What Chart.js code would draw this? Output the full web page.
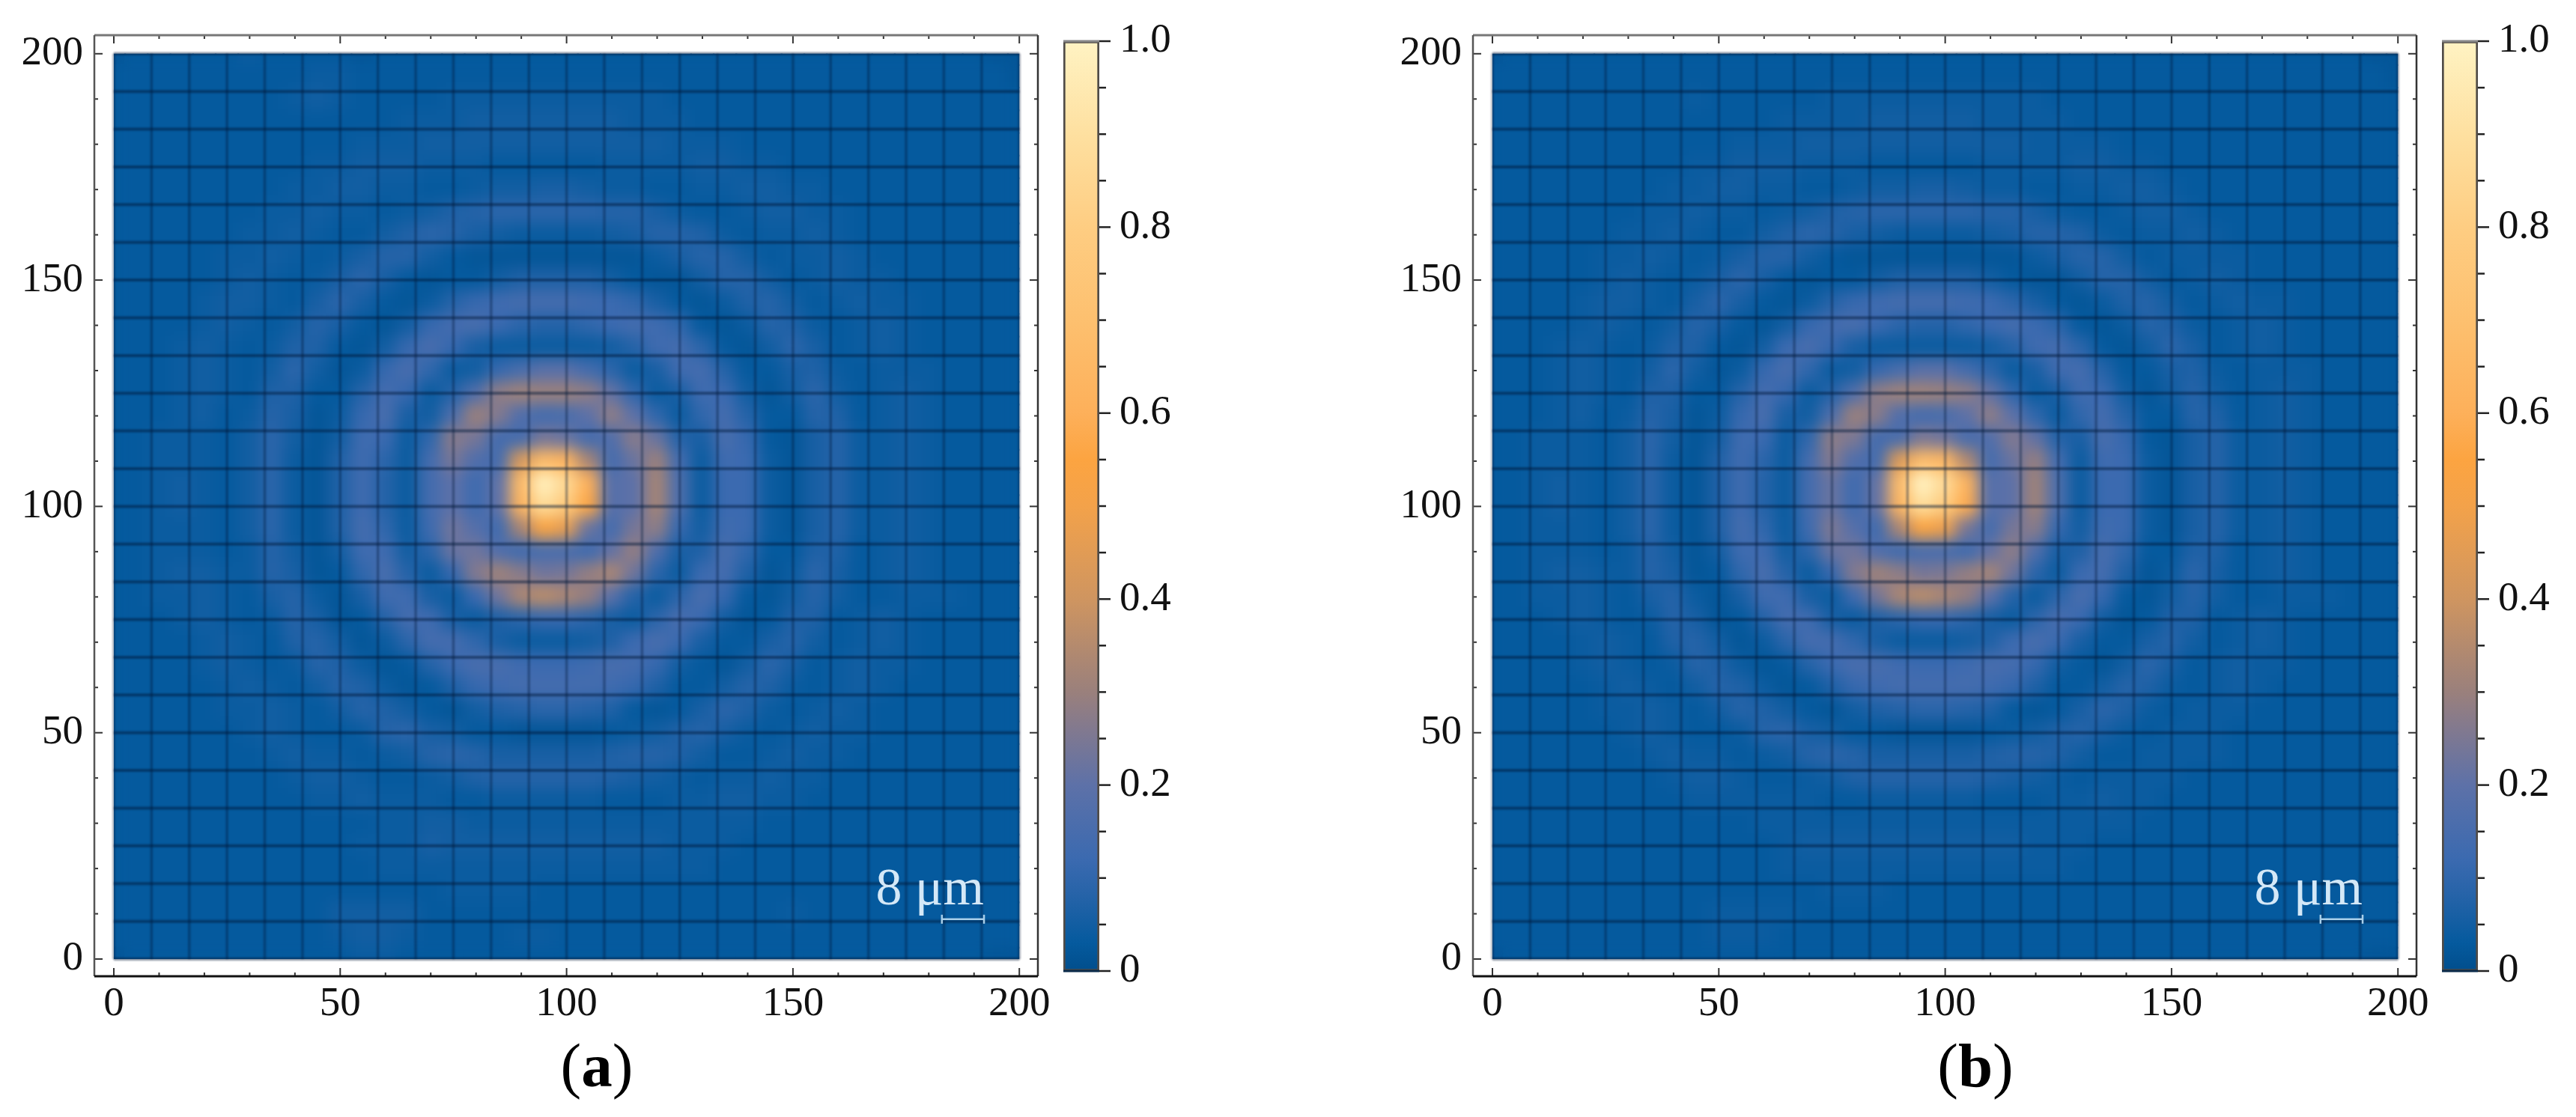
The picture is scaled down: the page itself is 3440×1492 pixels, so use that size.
<!DOCTYPE html>
<html>
<head>
<meta charset="utf-8">
<title>Intensity maps</title>
<script src="https://cdn.jsdelivr.net/npm/chart.js@4"></script>
<style>
  html, body { margin: 0; background: #fff; width: 3440px; height: 1492px; overflow: hidden; }
  canvas { position: absolute; top: 0; }
  .tag { position: absolute; top: 1373px; width: 200px; text-align: center; font: 83px/100px "Liberation Serif", serif; color: #000; }
</style>
</head>
<body>
<canvas id="mapA" width="1409" height="1380" style="left:0"></canvas>
<canvas id="barA" width="220" height="1380" style="left:1400px"></canvas>
<canvas id="mapB" width="1409" height="1380" style="left:1841px"></canvas>
<canvas id="barB" width="220" height="1380" style="left:3241px"></canvas>
<div class="tag" style="left:697px">(<b>a</b>)</div>
<div class="tag" style="left:2538px">(<b>b</b>)</div>
<script>
const xLabels = [0, 50, 100, 150, 200];
const yLabels = [0, 50, 100, 150, 200];
const minorTicks = [10, 20, 30, 40, 60, 70, 80, 90, 110, 120, 130, 140, 160, 170, 180, 190];
const barLabels = [0, 0.2, 0.4, 0.6, 0.8, 1];
const barMinorTicks = [0.05, 0.1, 0.15, 0.25, 0.3, 0.35, 0.45, 0.5, 0.55, 0.65, 0.7, 0.75, 0.85, 0.9, 0.95];
const meshLines = [0, 8.33, 16.67, 25, 33.33, 41.67, 50, 58.33, 66.67, 75, 83.33, 91.67, 100, 108.33, 116.67, 125, 133.33, 141.67, 150, 158.33, 166.67, 175, 183.33, 191.67, 200];

const scaleBarX = [182.9, 192.2];
const scaleBarY = 8.8;
const scaleBarText = "8 μm";

const colorStops = [0, 0.03, 0.08, 0.12, 0.2, 0.26, 0.3, 0.4, 0.5, 0.55, 0.6, 0.7, 0.8, 0.9, 1];
const colorHex = ["#014e8c", "#055a9e", "#2563a8", "#3b6ab0", "#5d71a8", "#82798f", "#9a807c", "#cf9560", "#f3a24a", "#fca441", "#fdb05a", "#fdc06f", "#fecd82", "#fee0a0", "#fff3c3"];

// sample positions of the intensity rows/columns
const sampleX = [0,5,10,15,20,25,30,35,40,45,50,55,60,65,70,75,80,85,90,95,100,105,110,115,120,125,130,135,140,145,150,155,160,165,170,175,180,185,190,195,200];
const sampleY = [200,195,190,185,180,175,170,165,160,155,150,145,140,135,130,125,120,115,110,105,100,95,90,85,80,75,70,65,60,55,50,45,40,35,30,25,20,15,10,5,0];

// intensity in percent, top row first
const intensityA = [
[2,3,3,3,3,3,4,3,3,3,3,2,3,3,3,3,3,3,3,3,3,3,3,3,3,3,3,3,3,3,3,3,3,3,3,3,3,3,3,2,2],
[3,3,3,3,3,3,3,3,3,4,4,3,3,3,3,3,3,3,3,3,3,3,3,3,3,3,3,3,3,3,3,3,3,3,3,3,3,3,3,3,2],
[3,3,3,3,3,3,3,3,4,5,4,3,3,3,3,4,4,4,4,4,4,4,4,4,4,3,3,3,3,3,3,3,3,3,3,3,3,3,3,3,3],
[3,3,3,3,3,3,3,3,3,3,3,3,3,4,4,4,5,5,5,5,5,5,5,4,4,4,3,3,3,3,3,3,3,3,3,3,3,3,3,3,3],
[3,3,3,3,3,3,3,3,3,3,3,4,4,4,5,5,5,5,5,5,5,5,5,5,5,4,4,4,3,3,3,3,3,3,3,3,3,3,3,3,3],
[3,3,3,3,3,3,3,3,3,4,4,5,5,5,4,4,4,3,3,3,3,3,4,4,4,4,5,5,4,4,3,3,3,3,3,3,3,3,3,3,3],
[3,3,3,3,3,3,3,3,4,4,5,5,4,4,3,3,4,5,5,6,6,5,4,4,3,3,4,4,5,5,4,4,3,3,3,3,3,3,3,3,3],
[3,3,3,3,3,3,3,4,4,5,4,4,3,4,5,7,8,9,9,9,9,9,8,8,6,4,3,3,4,5,5,4,4,3,3,3,3,3,3,3,3],
[3,3,3,3,3,3,4,4,5,4,3,3,5,7,9,8,6,5,4,4,4,4,5,6,8,8,7,4,3,4,4,5,4,3,3,3,3,3,3,3,3],
[3,3,3,3,3,4,4,5,4,3,4,6,8,8,5,3,2,2,2,2,2,2,2,2,4,6,8,8,5,3,4,4,5,4,3,3,3,3,3,3,3],
[3,3,3,3,3,4,5,4,3,4,6,9,6,3,2,3,3,5,7,7,7,7,5,3,2,2,5,8,8,5,3,4,5,4,4,3,3,3,3,3,3],
[3,3,3,3,4,5,5,4,3,6,9,6,3,2,4,8,11,13,14,14,14,13,12,10,6,3,2,4,7,8,5,3,4,5,4,4,3,3,3,3,3],
[3,3,3,3,4,5,4,3,5,8,6,3,2,5,11,14,15,12,9,8,8,10,12,14,13,10,3,2,4,8,7,4,3,4,5,4,3,3,3,3,3],
[3,3,3,4,5,4,3,4,7,7,3,2,5,11,15,11,6,4,4,4,4,4,5,8,13,14,9,3,2,5,9,6,3,4,5,4,3,3,3,3,3],
[3,3,3,4,5,4,3,5,9,5,2,4,11,15,10,4,5,11,15,19,19,14,9,4,6,13,14,8,3,3,6,7,4,3,4,4,4,3,3,3,3],
[3,3,3,4,5,4,3,7,7,3,3,8,14,11,4,8,17,28,31,30,30,28,21,10,4,6,13,12,5,2,5,9,5,3,4,5,4,3,3,3,3],
[3,3,3,4,5,3,4,8,6,2,4,11,15,6,5,16,30,26,17,14,15,20,28,20,10,4,10,14,8,3,3,8,7,3,4,5,4,3,3,3,3],
[3,3,4,4,4,3,5,9,5,2,5,13,12,4,10,27,24,14,14,24,22,14,17,27,22,8,6,15,11,3,2,6,8,4,4,5,4,3,3,3,3],
[3,3,4,4,4,3,5,9,4,2,7,13,9,4,14,24,17,14,42,66,62,32,14,22,30,14,4,13,12,4,2,6,8,4,4,5,4,3,3,3,3],
[3,3,4,5,4,3,5,9,4,2,7,13,8,4,14,20,13,20,66,98,86,60,18,20,32,16,4,12,12,4,2,6,8,4,4,5,4,3,3,3,3],
[3,3,4,5,4,3,5,9,4,2,7,13,8,4,14,20,13,20,62,88,78,56,18,20,32,16,4,12,12,4,2,6,8,4,4,5,4,3,3,3,3],
[3,3,4,4,4,3,5,9,4,2,7,14,10,4,13,23,18,13,32,54,46,22,14,24,28,11,5,13,12,4,2,6,8,4,4,5,4,3,3,3,3],
[3,3,4,4,4,3,4,8,5,2,5,13,13,5,9,22,23,17,13,15,15,13,21,29,17,6,7,15,10,3,3,7,7,3,4,5,4,3,3,3,3],
[3,3,4,5,5,4,4,8,6,2,3,10,15,8,4,11,26,31,27,23,24,29,33,23,9,4,12,14,7,2,4,9,6,3,4,5,4,3,3,3,3],
[3,3,4,4,5,4,3,6,8,4,2,6,13,13,6,4,12,23,33,36,33,29,19,8,4,9,15,11,3,2,5,8,5,3,3,4,4,4,3,3,3],
[3,3,3,4,5,4,3,4,8,6,2,3,8,14,13,6,4,7,9,11,11,9,6,4,9,15,12,5,2,3,7,7,3,4,5,4,3,3,3,3,3],
[3,3,3,3,4,5,4,3,7,8,5,2,4,9,14,14,10,6,4,4,4,5,7,12,15,12,6,3,3,6,8,5,3,4,5,4,3,3,3,3,3],
[3,3,3,3,4,5,4,3,4,8,7,4,2,3,8,12,15,15,13,12,12,13,15,14,11,5,3,2,5,9,6,3,4,5,4,4,3,3,3,3,3],
[3,3,3,3,3,4,5,4,3,5,8,7,4,2,3,7,11,13,14,14,14,14,13,11,7,3,3,5,8,7,4,3,4,5,4,3,3,3,3,3,3],
[3,3,3,3,3,4,4,5,4,3,5,8,7,5,3,2,5,7,8,9,9,8,7,3,2,3,6,9,7,4,3,4,5,4,3,3,3,3,3,3,3],
[3,3,3,3,3,3,4,5,4,3,3,4,8,9,6,5,3,3,2,2,2,2,3,4,5,7,8,6,4,3,4,5,4,4,3,3,3,3,3,3,3],
[3,3,3,3,3,3,3,4,5,4,4,3,4,5,8,9,8,6,6,6,6,6,7,8,8,7,5,3,3,4,5,4,4,3,3,3,3,3,3,3,3],
[3,3,3,3,3,3,3,3,4,5,5,4,3,3,4,5,7,8,8,8,8,8,7,6,5,4,3,4,4,5,4,4,3,3,3,3,3,3,3,3,3],
[3,3,3,3,3,3,3,3,3,4,4,5,4,4,4,3,3,4,4,4,4,4,3,3,3,4,4,5,5,4,4,3,3,3,3,3,3,3,3,3,3],
[3,3,3,3,3,3,3,3,3,3,3,3,4,4,5,5,4,4,4,4,4,4,4,4,4,4,4,4,4,3,3,3,3,3,3,3,3,3,3,3,3],
[3,3,3,3,3,3,3,3,3,3,3,4,4,4,6,5,5,5,5,5,5,5,5,5,5,4,4,4,3,3,3,3,3,3,3,3,3,3,3,3,3],
[3,3,3,3,3,3,3,3,3,3,3,3,4,4,4,4,4,4,4,4,4,4,4,4,4,4,4,3,3,3,3,3,3,3,3,3,3,3,3,3,3],
[3,3,3,3,3,3,3,3,3,3,3,3,3,3,3,4,4,4,4,3,3,3,3,3,3,3,3,3,3,3,3,3,3,3,3,3,3,3,3,3,3],
[3,3,3,3,3,3,3,3,3,3,5,5,5,5,3,3,3,3,3,3,3,3,3,3,3,3,3,3,3,3,4,3,3,3,3,3,3,3,3,3,3],
[3,3,3,3,3,3,3,3,3,3,4,5,5,4,3,3,3,3,4,4,3,3,3,3,3,3,3,3,3,3,3,3,3,3,3,3,3,3,3,3,3],
[2,3,3,3,3,3,3,3,3,3,3,4,4,3,3,3,3,3,3,3,3,3,3,3,3,3,3,3,3,3,3,3,3,3,3,3,3,3,3,2,2]
];

const intensityB = [
[2,3,3,3,3,3,3,3,3,3,3,3,3,3,3,3,3,3,3,3,3,3,3,3,3,3,3,3,3,3,3,3,3,3,3,3,3,3,3,2,2],
[3,3,3,3,3,3,3,3,3,3,3,3,3,3,3,3,3,3,3,3,3,3,3,3,3,3,3,3,3,3,3,3,3,3,3,3,3,3,3,3,2],
[3,3,3,3,3,3,3,3,3,4,3,3,3,3,3,4,4,4,4,4,4,4,4,4,4,3,3,3,3,3,3,3,3,3,3,3,3,3,3,3,3],
[3,3,3,3,3,3,3,3,3,3,3,3,3,4,4,4,4,5,5,5,5,5,4,4,4,4,3,3,3,3,3,3,3,3,3,3,3,3,3,3,3],
[3,3,3,3,3,3,3,3,3,3,3,4,4,4,5,5,5,5,5,5,5,5,5,5,4,4,4,4,3,3,3,3,3,3,3,3,3,3,3,3,3],
[3,3,3,3,3,3,3,3,3,4,4,5,5,5,4,4,4,3,3,3,3,3,4,4,4,4,5,5,4,4,3,3,3,3,3,3,3,3,3,3,3],
[3,3,3,3,3,3,3,3,4,4,5,5,4,4,3,3,4,5,5,6,6,5,4,4,3,3,4,4,5,5,4,3,3,3,3,3,3,3,3,3,3],
[3,3,3,3,3,3,3,4,4,5,4,4,3,4,5,7,8,9,9,9,9,9,8,8,6,4,3,3,4,5,5,4,3,3,3,3,3,3,3,3,3],
[3,3,3,3,3,3,4,4,5,4,3,3,5,7,9,8,6,5,4,4,4,4,5,6,8,8,7,4,3,4,4,5,4,3,3,3,3,3,3,3,3],
[3,3,3,3,3,4,4,5,4,3,4,6,8,8,5,3,2,2,2,2,2,2,2,2,4,6,8,8,5,3,4,4,4,4,3,3,3,3,3,3,3],
[3,3,3,3,3,4,5,4,3,4,6,9,6,3,2,3,3,5,7,7,7,7,5,3,2,2,5,8,8,5,3,4,5,4,3,3,3,3,3,3,3],
[3,3,3,3,4,5,5,4,3,6,9,6,3,2,4,8,11,13,14,14,14,13,12,9,6,3,2,4,7,8,5,3,4,5,4,4,3,3,3,3,3],
[3,3,3,3,4,5,4,3,5,8,6,3,2,5,11,14,15,12,9,8,8,10,12,14,12,9,3,2,4,8,7,4,3,4,5,4,3,3,3,3,3],
[3,3,3,4,5,4,3,4,7,7,3,2,5,12,15,11,6,4,4,4,4,4,5,8,13,14,9,3,2,5,9,6,3,4,5,4,3,3,3,3,3],
[3,3,3,4,5,4,3,5,9,5,2,4,11,15,10,4,5,11,15,19,19,14,9,4,6,13,14,8,3,3,6,7,4,3,4,4,4,3,3,3,3],
[3,3,3,4,5,4,3,7,7,3,3,8,14,11,4,8,17,28,31,31,30,28,21,10,4,6,13,12,5,2,5,8,5,3,4,5,4,3,3,3,3],
[3,3,3,4,5,3,4,8,6,2,4,11,15,6,5,16,30,27,17,14,15,20,28,20,10,4,10,14,8,3,3,8,7,3,4,5,4,3,3,3,3],
[3,3,4,4,4,3,5,9,5,2,5,13,12,4,10,28,25,14,15,25,23,15,17,26,21,8,6,15,11,3,2,6,8,4,4,5,4,3,3,3,3],
[3,3,4,4,4,3,5,9,4,2,7,13,9,4,14,26,17,14,44,67,64,34,14,22,29,14,4,13,12,4,2,6,8,4,4,5,4,3,3,3,3],
[3,3,4,5,4,3,5,9,4,2,7,13,8,4,14,22,13,21,67,99,87,62,18,20,31,16,4,12,12,4,2,6,8,4,4,5,4,3,3,3,3],
[3,3,4,5,4,3,5,9,4,2,7,13,8,4,14,22,13,21,63,89,79,58,18,20,31,16,4,12,12,4,2,6,8,4,4,5,4,3,3,3,3],
[3,3,4,4,4,3,5,9,4,2,7,14,10,4,13,25,18,13,33,55,48,24,14,24,27,11,5,13,12,4,2,6,8,4,4,5,4,3,3,3,3],
[3,3,4,4,4,3,4,8,5,2,5,13,13,5,9,22,23,17,13,15,15,13,21,28,17,6,7,15,10,3,3,7,7,3,4,5,4,3,3,3,3],
[3,3,4,5,5,4,4,8,6,2,3,10,15,8,4,11,26,31,28,24,25,29,32,23,9,4,12,14,7,2,4,9,6,3,4,5,4,3,3,3,3],
[3,3,4,4,5,4,3,6,8,4,2,6,13,13,6,4,13,24,33,36,33,29,20,8,4,9,15,11,3,2,5,8,5,3,3,4,4,4,3,3,3],
[3,3,3,4,5,4,3,4,8,6,2,3,8,14,13,6,4,7,9,11,11,9,6,4,9,15,12,5,2,3,7,7,3,4,5,4,3,3,3,3,3],
[3,3,3,3,4,5,4,3,7,8,5,2,4,9,14,14,10,6,4,4,4,5,7,12,15,12,6,3,3,6,8,5,3,4,5,4,3,3,3,3,3],
[3,3,3,3,4,5,4,3,4,8,7,4,2,3,8,12,15,15,13,12,12,13,15,14,11,5,3,2,5,9,6,3,4,5,4,4,3,3,3,3,3],
[3,3,3,3,3,4,5,4,3,5,8,7,4,2,3,7,11,13,14,14,14,14,13,11,7,3,3,5,8,7,4,3,4,5,4,3,3,3,3,3,3],
[3,3,3,3,3,4,4,5,4,3,5,8,7,5,3,2,5,7,8,9,9,8,7,3,2,3,6,9,7,4,3,4,4,4,3,3,3,3,3,3,3],
[3,3,3,3,3,3,4,5,4,3,3,4,8,9,6,5,3,3,2,2,2,2,3,4,5,7,8,6,4,3,4,4,4,3,3,3,3,3,3,3,3],
[3,3,3,3,3,3,3,4,5,4,4,3,4,5,8,9,8,6,6,6,6,6,7,8,8,7,5,3,3,4,4,4,4,3,3,3,3,3,3,3,3],
[3,3,3,3,3,3,3,3,4,5,5,4,3,3,4,5,7,8,8,8,8,8,7,6,5,4,3,4,4,4,4,3,3,3,3,3,3,3,3,3,3],
[3,3,3,3,3,3,3,3,3,4,4,4,4,4,4,3,3,4,4,4,4,4,3,3,3,4,4,5,4,4,3,3,3,3,3,3,3,3,3,3,3],
[3,3,3,3,3,3,3,3,3,3,3,3,4,4,4,4,4,4,4,4,4,4,4,4,4,4,4,4,4,3,3,3,3,3,3,3,3,3,3,3,3],
[3,3,3,3,3,3,3,3,3,3,3,3,3,4,5,5,5,5,5,5,5,5,5,5,4,4,4,3,3,3,3,3,3,3,3,3,3,3,3,3,3],
[3,3,3,3,3,3,3,3,3,3,3,3,3,4,4,4,4,4,4,4,4,4,4,4,4,4,3,3,3,3,3,3,3,3,3,3,3,3,3,3,3],
[3,3,3,3,3,3,3,3,3,3,3,3,3,3,3,4,4,4,3,3,3,3,3,3,3,3,3,3,3,3,3,3,3,3,3,3,3,3,3,3,3],
[3,3,3,3,3,3,3,3,3,3,4,4,4,4,3,3,3,3,3,3,3,3,3,3,3,3,3,3,3,3,3,3,3,3,3,3,3,3,3,3,3],
[3,3,3,3,3,3,3,3,3,3,4,4,4,3,3,3,3,3,3,3,3,3,3,3,3,3,3,3,3,3,3,3,3,3,3,3,3,3,3,3,3],
[2,3,3,3,3,3,3,3,3,3,3,3,3,3,3,3,3,3,3,3,3,3,3,3,3,3,3,3,3,3,3,3,3,3,3,3,3,3,3,2,2]
];

const labelFont = { family: "Liberation Serif", size: 55 };

function hexToRgb(hex) {
  return [1, 3, 5].map(i => parseInt(hex.slice(i, i + 2), 16));
}

function colorFor(v) {
  let i = 1;
  while (i < colorStops.length - 1 && v > colorStops[i]) i++;
  const t = Math.min(1, Math.max(0, (v - colorStops[i - 1]) / (colorStops[i] - colorStops[i - 1])));
  const a = hexToRgb(colorHex[i - 1]);
  const b = hexToRgb(colorHex[i]);
  return `rgb(${a.map((c, k) => Math.round(c + (b[k] - c) * t)).join(",")})`;
}

function cellsFrom(rows) {
  const cells = [];
  rows.forEach((row, r) => row.forEach((pct, c) => {
    cells.push({ x: sampleX[c], y: sampleY[r], v: pct / 100 });
  }));
  return cells;
}

function verticalMesh() {
  const pts = [];
  meshLines.forEach(m => pts.push({ x: m, y: 0 }, { x: m, y: 200 }, { x: NaN, y: NaN }));
  return pts;
}

function horizontalMesh() {
  const pts = [];
  meshLines.forEach(m => pts.push({ x: 0, y: m }, { x: 200, y: m }, { x: NaN, y: NaN }));
  return pts;
}

function line(ctx, x1, y1, x2, y2, color, width) {
  ctx.strokeStyle = color;
  ctx.lineWidth = width;
  ctx.beginPath();
  ctx.moveTo(x1, y1);
  ctx.lineTo(x2, y2);
  ctx.stroke();
}

// clip the cells to 0..200 and soften them into a continuous map
const softCells = {
  id: "softCells",
  beforeDatasetDraw(chart, args) {
    const ctx = chart.ctx;
    if (args.index !== 0) {
      ctx.filter = "blur(1.2px)";
      return;
    }
    const { x, y } = chart.scales;
    ctx.save();
    ctx.beginPath();
    ctx.rect(x.getPixelForValue(0), y.getPixelForValue(200), x.getPixelForValue(200) - x.getPixelForValue(0), y.getPixelForValue(0) - y.getPixelForValue(200));
    ctx.clip();
  },
  afterDatasetDraw(chart, args) {
    const ctx = chart.ctx;
    if (args.index !== 0) {
      ctx.filter = "none";
      return;
    }
    const { x, y } = chart.scales;
    const left = x.getPixelForValue(0);
    const top = y.getPixelForValue(200);
    const w = x.getPixelForValue(200) - left;
    const h = y.getPixelForValue(0) - top;
    ctx.filter = "blur(10px)";
    ctx.drawImage(chart.canvas, left, top, w, h, left, top, w, h);
    ctx.filter = "none";
    ctx.restore();
  }
};

const frameAndTicks = {
  id: "frameAndTicks",
  afterDraw(chart) {
    const { x, y } = chart.scales;
    const { left, right, top, bottom } = chart.chartArea;
    const ctx = chart.ctx;
    ctx.save();
    xLabels.forEach(v => {
      const p = x.getPixelForValue(v);
      line(ctx, p, bottom, p, bottom - 11, "#333", 2);
      line(ctx, p, top, p, top + 11, "#333", 2);
    });
    minorTicks.forEach(v => {
      const p = x.getPixelForValue(v);
      line(ctx, p, bottom, p, bottom - 5, "#333", 2);
      line(ctx, p, top, p, top + 5, "#333", 2);
      const q = y.getPixelForValue(v);
      line(ctx, left, q, left + 5, q, "#333", 2);
      line(ctx, right, q, right - 5, q, "#333", 2);
    });
    yLabels.forEach(v => {
      const q = y.getPixelForValue(v);
      line(ctx, left, q, left + 11, q, "#333", 2);
      line(ctx, right, q, right - 11, q, "#333", 2);
    });
    line(ctx, left, top, right, top, "#777", 3);
    line(ctx, left, top, left, bottom, "#555", 2.5);
    line(ctx, right, top, right, bottom, "#333", 2.5);
    line(ctx, left, bottom, right, bottom, "#111", 3);

    // scale bar
    const bx1 = x.getPixelForValue(scaleBarX[0]);
    const bx2 = x.getPixelForValue(scaleBarX[1]);
    const by = y.getPixelForValue(scaleBarY);
    line(ctx, bx1, by, bx2, by, "#a9cfe9", 2.5);
    line(ctx, bx1, by - 6, bx1, by + 6, "#a9cfe9", 2.5);
    line(ctx, bx2, by - 6, bx2, by + 6, "#a9cfe9", 2.5);
    ctx.fillStyle = "#d4e8f7";
    ctx.font = '70px "Liberation Serif"';
    ctx.textAlign = "right";
    ctx.textBaseline = "alphabetic";
    ctx.fillText(scaleBarText, bx2, by - 20);
    ctx.restore();
  }
};

function drawMap(id, rows) {
  new Chart(document.getElementById(id), {
    type: "scatter",
    data: {
      datasets: [
        {
          label: "intensity",
          data: cellsFrom(rows),
          order: 3,
          pointStyle: "rect",
          pointRadius: 23,
          pointBorderWidth: 0,
          pointBackgroundColor: c => colorFor(c.raw.v)
        },
        {
          label: "mesh vertical",
          data: verticalMesh(),
          order: 2,
          showLine: true,
          spanGaps: false,
          pointRadius: 0,
          borderColor: "rgba(0,22,55,0.36)",
          borderWidth: 3.5
        },
        {
          label: "mesh horizontal",
          data: horizontalMesh(),
          order: 1,
          showLine: true,
          spanGaps: false,
          pointRadius: 0,
          borderColor: "rgba(0,22,55,0.48)",
          borderWidth: 4
        }
      ]
    },
    options: {
      responsive: false,
      animation: false,
      devicePixelRatio: 1,
      events: [],
      layout: { padding: { top: 47, right: 13, left: 0, bottom: 0 } },
      plugins: { legend: { display: false }, tooltip: { enabled: false } },
      scales: {
        x: {
          type: "linear",
          min: -4.3,
          max: 204.1,
          afterFit: s => { s.height = 76; s.paddingLeft = 0; s.paddingRight = 0; },
          afterBuildTicks: s => { s.ticks = xLabels.map(v => ({ value: v })); },
          grid: { display: false, drawTicks: false },
          border: { display: false },
          ticks: { font: labelFont, color: "#111", padding: 5, maxRotation: 0, autoSkip: false, callback: v => String(v) }
        },
        y: {
          type: "linear",
          min: -3.8,
          max: 204.1,
          afterFit: s => { s.width = 126; s.paddingTop = 0; s.paddingBottom = 0; },
          afterBuildTicks: s => { s.ticks = yLabels.map(v => ({ value: v })); },
          grid: { display: false, drawTicks: false },
          border: { display: false },
          ticks: { font: labelFont, color: "#111", padding: 15, autoSkip: false, callback: v => String(v) }
        }
      }
    },
    plugins: [softCells, frameAndTicks]
  });
}

const barTicks = {
  id: "barTicks",
  afterDraw(chart) {
    const y = chart.scales.y;
    const right = chart.chartArea.right;
    const ctx = chart.ctx;
    ctx.save();
    barLabels.forEach(v => line(ctx, right, y.getPixelForValue(v), right + 15, y.getPixelForValue(v), "#222", 2.5));
    barMinorTicks.forEach(v => line(ctx, right, y.getPixelForValue(v), right + 9, y.getPixelForValue(v), "#222", 2.5));
    line(ctx, chart.chartArea.left, y.getPixelForValue(1), right, y.getPixelForValue(1), "#888", 3);
    line(ctx, chart.chartArea.left, y.getPixelForValue(0), right, y.getPixelForValue(0), "#0a2a4a", 3);
    ctx.restore();
  }
};

function drawBar(id) {
  new Chart(document.getElementById(id), {
    type: "bar",
    data: {
      labels: ["scale"],
      datasets: [{
        data: [[0, 1]],
        barPercentage: 1,
        categoryPercentage: 1,
        borderWidth: 3,
        borderSkipped: false,
        borderColor: "rgba(20,15,10,0.75)",
        backgroundColor: c => {
          const area = c.chart.chartArea;
          if (!area) return colorHex[0];
          const y = c.chart.scales.y;
          const g = c.chart.ctx.createLinearGradient(0, y.getPixelForValue(0), 0, y.getPixelForValue(1));
          colorStops.forEach((s, i) => g.addColorStop(s, colorHex[i]));
          return g;
        }
      }]
    },
    options: {
      responsive: false,
      animation: false,
      devicePixelRatio: 1,
      events: [],
      layout: { padding: { top: 55, bottom: 83, left: 20, right: 0 } },
      plugins: { legend: { display: false }, tooltip: { enabled: false } },
      scales: {
        x: { display: false },
        y: {
          position: "right",
          min: 0,
          max: 1,
          afterFit: s => { s.width = 152; s.paddingTop = 0; s.paddingBottom = 0; },
          afterBuildTicks: s => { s.ticks = barLabels.map(v => ({ value: v })); },
          grid: { display: false, drawTicks: false },
          border: { display: false },
          ticks: { font: labelFont, color: "#111", padding: 27, autoSkip: false, callback: v => (v === 0 ? "0" : v.toFixed(1)) }
        }
      }
    },
    plugins: [barTicks]
  });
}

drawMap("mapA", intensityA);
drawBar("barA");
drawMap("mapB", intensityB);
drawBar("barB");
</script>
</body>
</html>
